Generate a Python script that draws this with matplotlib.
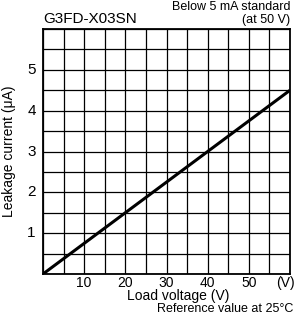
import matplotlib
matplotlib.use("Agg")
import matplotlib.pyplot as plt
import numpy as np

plt.rcParams['font.family'] = ['Liberation Sans', 'DejaVu Sans']

# leakage current vs load voltage
voltage = [0, 60]
current = [0, 4.5]

xticks = [10, 20, 30, 40, 50]
yticks = [1, 2, 3, 4, 5]

fig = plt.figure(figsize=(3.08, 3.29), dpi=100)
ax = fig.add_axes([43/308, 1 - 274/329, 247/308, 245/329])

ax.plot(voltage, current, color='black', lw=2.2, solid_capstyle='butt')

ax.set_xlim(0, 60)
ax.set_ylim(0, 6)
ax.set_xticks(np.arange(0, 61, 5))
ax.set_yticks(np.arange(0, 6.1, 0.5))
ax.grid(True, color='black', lw=0.9)
ax.set_xticklabels([])
ax.set_yticklabels([])
ax.tick_params(length=0)
for s in ax.spines.values():
    s.set_linewidth(1.3)

fs = 10
for v in xticks:
    ax.text(v, -0.06, str(v), ha='center', va='top', fontsize=fs)
ax.text(59, -0.06, '(V)', ha='center', va='top', fontsize=fs)
for v in yticks:
    ax.text(-2.8, v, str(v), ha='center', va='center', fontsize=fs + 1)

ax.set_ylabel('Leakage current (\u03bcA)', fontsize=fs, labelpad=16)

fig.text(178/308, 1 - 296/329, 'Load voltage (V)', ha='center', va='center', fontsize=fs)
fig.text(43/308, 1 - 19/329, 'G3FD-X03SN', ha='left', va='center', fontsize=11)
fig.text(290/308, 1 - 7/329, 'Below 5 mA standard', ha='right', va='center', fontsize=fs - 1)
fig.text(290/308, 1 - 20/329, '(at 50 V)', ha='right', va='center', fontsize=fs - 1)
fig.text(293/308, 1 - 309/329, 'Reference value at 25\u00b0C', ha='right', va='center', fontsize=fs - 1)

fig.savefig('out.png', dpi=100)
